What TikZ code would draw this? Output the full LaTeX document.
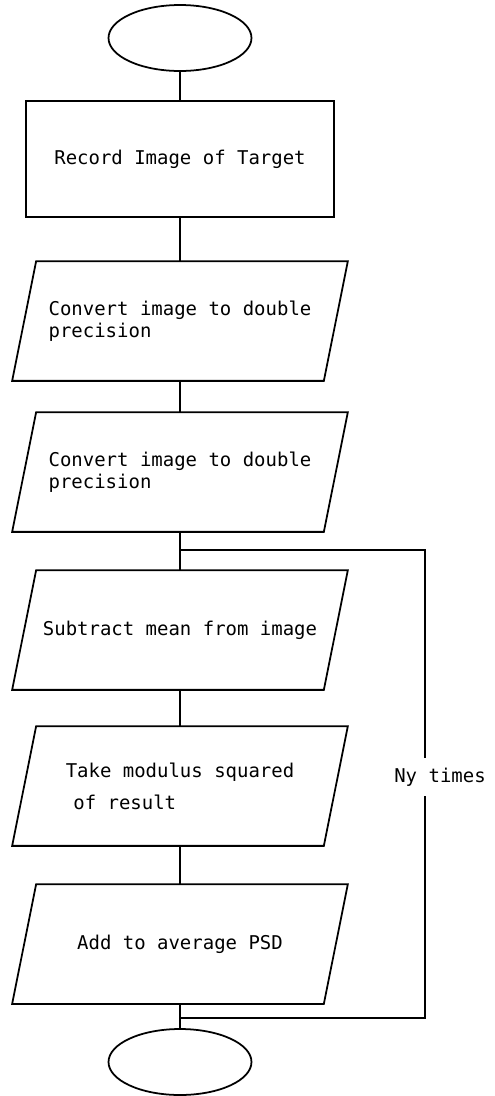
\documentclass[tikz,border=0pt]{standalone}
\usepackage{fontspec}
\setmonofont{DejaVu Sans Mono}
\usetikzlibrary{shapes.geometric}
\begin{document}
\begin{tikzpicture}[x=0.02cm, y=-0.02cm, line width=1pt,
    term node/.style={ellipse, draw, minimum width=2.86cm, minimum height=1.32cm},
    rect node/.style={rectangle, draw, minimum width=6.16cm, minimum height=2.32cm, font=\ttfamily\fontsize{10.8}{12.5}\selectfont},
    io node/.style={rectangle, minimum width=6.2cm, minimum height=2.36cm, inner sep=0pt, align=left, font=\ttfamily\fontsize{10.8}{12.5}\selectfont,
        append after command={\pgfextra{\draw ([xshift=0.24cm]\tikzlastnode.north west) -- ([xshift=0.24cm]\tikzlastnode.north east)
            -- ([xshift=-0.24cm]\tikzlastnode.south east) -- ([xshift=-0.24cm]\tikzlastnode.south west) -- cycle;}}}]
    \useasboundingbox (0,0) rectangle (494,1096);

    % start and record
    \node[term node] (start) at (180, 38) {};
    \node[rect node] (record) at (180, 159) {Record Image of Target};

    % conversions
    \node[io node] (conv1) at (180, 321) {Convert image to double\\precision};
    \node[io node] (conv2) at (180, 472) {Convert image to double\\precision};

    % loop body
    \node[io node] (sub) at (180, 630) {Subtract mean from image};
    \node[io node] (mod) at (180, 786) {Take modulus squared\\[5.7pt]\hspace*{0.4em}of result};
    \node[io node] (add) at (180, 944) {Add to average PSD};

    \node[term node] (stop) at (180, 1062) {};

    \draw (start) to (record);
    \draw (record) to (conv1);
    \draw (conv1) to (conv2);
    \draw (conv2) to (sub);
    \draw (sub) to (mod);
    \draw (mod) to (add);
    \draw (add) to (stop);

    % repeat loop
    \coordinate (jtop) at (180, 550);
    \coordinate (jbot) at (180, 1018);
    \coordinate (ctop) at (425, 550);
    \coordinate (cbot) at (425, 1018);
    \draw (jbot) -- (cbot) -- (ctop) -- (jtop);
    \node[fill=white, inner sep=1pt, minimum height=0.76cm, font=\ttfamily\fontsize{10.8}{12.5}\selectfont] (ny) at (440, 777) {Ny times};
\end{tikzpicture}
\end{document}
